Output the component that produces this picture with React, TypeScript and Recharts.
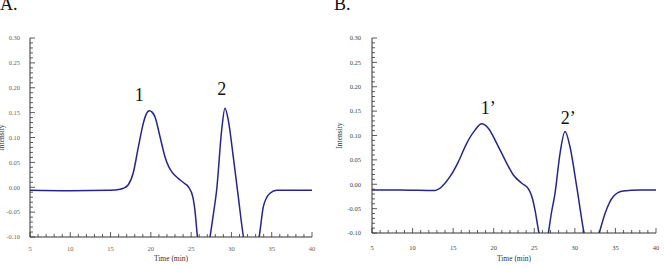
import React from 'react';
import { LineChart, Line, XAxis, YAxis, ReferenceDot } from 'recharts';

// Panel A chromatogram (time in min, intensity)
const timeA = [5, 10, 14.9, 16.2, 16.6, 17.2, 17.8, 18.45, 19.07, 19.4, 19.8, 20.15, 20.5, 21.13, 21.76, 22.2, 22.6, 23.1, 23.6, 24.15, 24.65, 25.2, 25.48, 25.77, 26.5, 27.34, 27.75, 28.17, 28.79, 29.2, 29.61, 30.23, 30.85, 31.47, 32.5, 33.46, 33.96, 34.4, 34.79, 35.62, 37.3, 40];
const intensityA = [-0.006, -0.007, -0.006, -0.004, -0.002, 0.005, 0.028, 0.081, 0.129, 0.146, 0.154, 0.151, 0.142, 0.102, 0.061, 0.042, 0.031, 0.022, 0.015, 0.008, 0.001, -0.019, -0.048, -0.098, -0.16, -0.1, -0.055, -0.005, 0.115, 0.159, 0.135, 0.061, -0.019, -0.098, -0.17, -0.098, -0.039, -0.02, -0.012, -0.006, -0.006, -0.006];

// Panel B chromatogram
const timeB = [5, 8.45, 12.76, 13.2, 13.59, 14.61, 15.64, 16.67, 17.69, 18.52, 19.33, 20.37, 21.39, 22.42, 23.45, 24.3, 24.7, 25.09, 25.58, 26.15, 26.73, 27.1, 27.55, 28.17, 28.79, 29.4, 30.23, 31.13, 32.1, 33.01, 33.72, 34.74, 35.97, 38.03, 40];
const intensityB = [-0.012, -0.012, -0.013, -0.01, -0.005, 0.0155, 0.046, 0.084, 0.111, 0.124, 0.115, 0.084, 0.05, 0.019, 0.002, -0.01, -0.025, -0.053, -0.1, -0.13, -0.1, -0.06, -0.019, 0.063, 0.108, 0.077, -0.005, -0.1, -0.16, -0.1, -0.06, -0.025, -0.014, -0.012, -0.012];

// peak labels
const peakNamesA = ['1', '2'];
const peakPosA = [[18.57, 0.187], [28.79, 0.199]];
const peakNamesB = ['1\u2019', '2\u2019'];
const peakPosB = [[19.33, 0.158], [29.19, 0.137]];

// axis ticks
const xMajor = [5, 10, 15, 20, 25, 30, 35, 40];
const yMajor = [-0.1, -0.05, 0, 0.05, 0.1, 0.15, 0.2, 0.25, 0.3];
const xTicks = Array.from({ length: 36 }, (_, i) => 5 + i);
const yTicks = Array.from({ length: 41 }, (_, i) => Math.round((-0.1 + i * 0.01) * 100) / 100);

const LINE = '#25258c';
const SERIF = '"Liberation Serif", "DejaVu Serif", serif';

const isIn = (arr: number[], v: number) => arr.some((m) => Math.abs(m - v) < 1e-6);

const YTick = ({ x, y, payload, gap, color }: any) => {
  const major = isIn(yMajor, payload.value);
  return (
    <g>
      <line x1={x} x2={x + (major ? 5 : 3)} y1={y} y2={y} stroke="#333" strokeWidth={0.8} />
      {major && (
        <text x={x - gap} y={y + 2.3} textAnchor="end" fontSize={6.5} fill={color} fontFamily={SERIF}>
          {payload.value.toFixed(2)}
        </text>
      )}
    </g>
  );
};

const XTick = ({ x, y, payload, gap, color }: any) => {
  const major = isIn(xMajor, payload.value);
  return (
    <g>
      <line x1={x} x2={x} y1={y} y2={y - (major ? 5 : 3)} stroke="#333" strokeWidth={0.8} />
      {major && (
        <text x={x} y={y + gap} textAnchor="middle" fontSize={6.5} fill={color} fontFamily={SERIF}>
          {payload.value}
        </text>
      )}
    </g>
  );
};

const Panel = ({ times, values, names, pos, width, left, yWidth, xHeight, right, cfg }: any) => {
  const data = times.map((t: number, i: number) => ({ t, v: values[i] }));
  return (
    <div style={{ position: 'absolute', left, top: 0 }}>
      <LineChart width={width} height={266} data={data} margin={{ top: 38, right, bottom: 0, left: 0 }}>
        <XAxis xAxisId="top" orientation="top" type="number" domain={[5, 40]} height={0} tick={false} tickLine={false} axisLine={{ stroke: '#999' }} />
        <YAxis yAxisId="right" orientation="right" type="number" domain={[-0.1, 0.3]} width={0} tick={false} tickLine={false} axisLine={{ stroke: '#999' }} />
        <XAxis
          dataKey="t"
          type="number"
          domain={[5, 40]}
          allowDataOverflow
          ticks={xTicks}
          interval={0}
          height={xHeight}
          tickSize={0}
          tickMargin={0}
          tickLine={false}
          axisLine={{ stroke: '#333' }}
          tick={<XTick gap={cfg.xGap} color={cfg.tickColor} />}
          label={({ viewBox }: any) => (
            <text x={viewBox.x + viewBox.width / 2} y={viewBox.y + cfg.xLabelDy} textAnchor="middle" fontSize={7.5} fill="#333" fontFamily={SERIF}>
              {cfg.xLabel}
            </text>
          )}
        />
        <YAxis
          type="number"
          domain={[-0.1, 0.3]}
          allowDataOverflow
          ticks={yTicks}
          interval={0}
          width={yWidth}
          tickSize={0}
          tickMargin={0}
          tickLine={false}
          axisLine={{ stroke: '#333' }}
          tick={<YTick gap={cfg.yGap} color={cfg.tickColor} />}
          label={({ viewBox }: any) => {
            const cy = viewBox.y + viewBox.height / 2;
            const cx = viewBox.x + cfg.yLabelDx;
            return (
              <text x={cx} y={cy} transform={`rotate(-90, ${cx}, ${cy})`} textAnchor="middle" fontSize={7.5} fill="#333" fontFamily={SERIF}>
                Intensity
              </text>
            );
          }}
        />
        <Line type="monotone" dataKey="v" stroke={LINE} strokeWidth={1.5} dot={false} isAnimationActive={false} />
        {names.map((n: string, i: number) => (
          <ReferenceDot
            key={n}
            x={pos[i][0]}
            y={pos[i][1]}
            r={0}
            fill="none"
            stroke="none"
            label={{ value: n, position: 'center', fontSize: 18, fill: '#111', fontFamily: SERIF }}
          />
        ))}
      </LineChart>
    </div>
  );
};

export default function App() {
  return (
    <div style={{ position: 'absolute', left: 0, top: 0, width: 665, height: 266, background: '#fff', overflow: 'hidden' }}>
      <Panel
        times={timeA}
        values={intensityA}
        names={peakNamesA}
        pos={peakPosA}
        width={330}
        left={0}
        yWidth={30}
        xHeight={29}
        right={18}
        cfg={{ xGap: 13.5, yGap: 10, tickColor: '#666', xLabel: 'Time (min)', xLabelDy: 24, yLabelDx: 4 }}
      />
      <Panel
        times={timeB}
        values={intensityB}
        names={peakNamesB}
        pos={peakPosB}
        width={335}
        left={330}
        yWidth={42}
        xHeight={33}
        right={9}
        cfg={{ xGap: 17, yGap: 11, tickColor: '#444', xLabel: 'Time (min)', xLabelDy: 28, yLabelDx: 12 }}
      />
      <svg width={665} height={20} style={{ position: 'absolute', left: 0, top: 0 }}>
        <text x={0} y={10} fontSize={18} fontFamily={SERIF} fill="#111">A.</text>
        <text x={334} y={10} fontSize={18} fontFamily={SERIF} fill="#111">B.</text>
      </svg>
    </div>
  );
}
